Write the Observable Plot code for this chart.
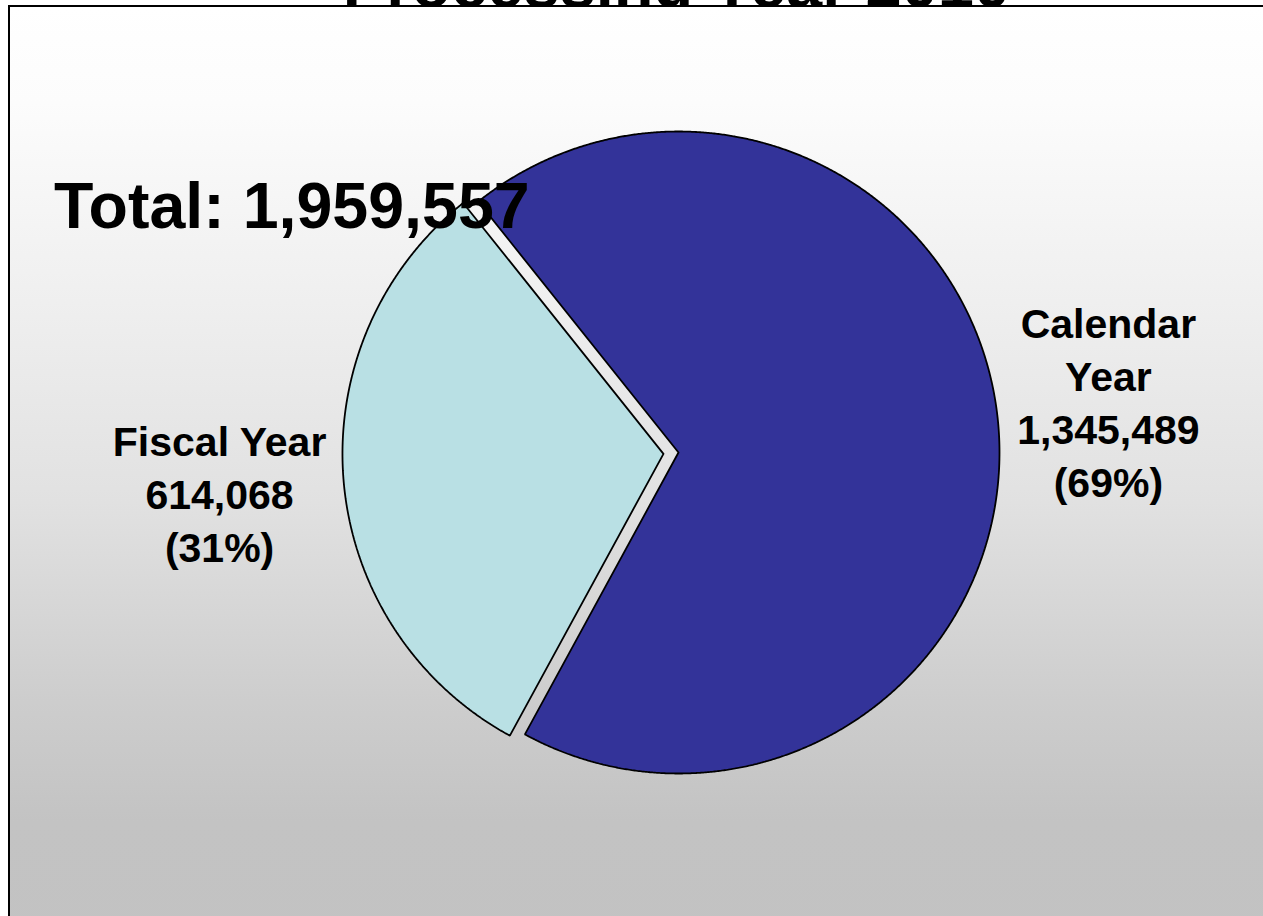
<!DOCTYPE html>
<html>
<head>
<meta charset="utf-8">
<script src="https://cdn.jsdelivr.net/npm/d3@7"></script>
<script src="https://cdn.jsdelivr.net/npm/@observablehq/plot@0.6"></script>
<style>
  html, body { margin: 0; padding: 0; background: #ffffff; }
  #wrap { position: relative; width: 1263px; height: 916px; overflow: hidden;
          font-family: "Liberation Sans", Arial, sans-serif; }
  #frame { position: absolute; left: 8px; top: 5px; width: 1400px; height: 1000px;
           border-left: 2px solid #000; border-top: 2px solid #000;
           background: linear-gradient(to bottom, #ffffff 0px, #fcfcfc 95px, #efefef 295px,
                       #e1e1e1 495px, #cdcdcd 695px, #c3c3c3 815px, #c2c2c2 1000px); }
  #chart { position: absolute; left: 0; top: 0; }
  #titleClip { position: absolute; left: 0; top: 0; width: 1263px; height: 6px; overflow: hidden; }
  #title { position: absolute; left: 0; width: 1263px; top: -48px; text-align: center;
           font-size: 65px; line-height: 65px; font-weight: bold; color: #000; padding-left: 90px; box-sizing: border-box; }
  #total { position: absolute; left: 54px; top: 174px; font-size: 64.5px; line-height: 64px;
           font-weight: bold; color: #000; white-space: nowrap; }
</style>
</head>
<body>
<div id="wrap">
  <div id="frame"></div>
  <div id="chart"></div>
  <div id="total"></div>
  <div id="titleClip"><div id="title"></div></div>
</div>
<script>
// ---- data ----
const titleText = "Processing Year 2010";
const categories = ["Calendar Year", "Fiscal Year"];
const sliceLabels = ["Calendar\nYear", "Fiscal Year"];
const values = [1345489, 614068];
const colors = ["#333399", "#b9e0e4"];
const explodedCategory = "Fiscal Year";

// ---- styling constants ----
const W = 1263, H = 916;
const startDeg = -38.6;        // pie rotation
const explodeFrac = 0.047;     // explode distance (fraction of radius)
const labelRadius = 1.36;      // label distance (fraction of radius)
const labelNudge = {"Calendar Year": [-5, -14], "Fiscal Year": [-9, 0]}; // px

const total = d3.sum(values);
const fmt = d3.format(",");

const pie = d3.pie().sort(null)
  .startAngle(startDeg * Math.PI / 180)
  .endAngle(startDeg * Math.PI / 180 + 2 * Math.PI)(values);

const slices = pie.map((p, i) => {
  const mid = (p.startAngle + p.endAngle) / 2;
  const e = categories[i] === explodedCategory ? explodeFrac : 0;
  const ox = e * Math.sin(mid), oy = e * Math.cos(mid);
  const pts = [{x: ox, y: oy}];
  const n = Math.max(8, Math.ceil((p.endAngle - p.startAngle) / (Math.PI / 720)));
  for (let k = 0; k <= n; k++) {
    const a = p.startAngle + (p.endAngle - p.startAngle) * k / n;
    pts.push({x: ox + Math.sin(a), y: oy + Math.cos(a)});
  }
  pts.push({x: ox, y: oy});
  return {
    cat: categories[i], color: colors[i], pts,
    lx: ox + labelRadius * Math.sin(mid),
    ly: oy + labelRadius * Math.cos(mid),
    text: `${sliceLabels[i]}\n${fmt(values[i])}\n(${Math.round(values[i] / total * 100)}%)`
  };
});

const cx = 678, cy = 452, r = 321;

const chart = Plot.plot({
  width: W, height: H,
  margin: 0,
  style: {background: "transparent", fontFamily: "'Liberation Sans', Arial, sans-serif", color: "#000", overflow: "visible"},
  x: {domain: [-1, 1], range: [cx - r, cx + r], axis: null},
  y: {domain: [-1, 1], range: [cy + r, cy - r], axis: null},
  marks: [
    ...slices.map(s => Plot.line(s.pts, {
      x: "x", y: "y", fill: s.color, stroke: "#000", strokeWidth: 1.8,
      strokeLinejoin: "miter", curve: "linear"
    })),
    ...slices.map(s => Plot.text([s], {
      x: "lx", y: "ly", text: "text",
      dx: labelNudge[s.cat][0], dy: labelNudge[s.cat][1],
      fontSize: 41, fontWeight: "bold", lineHeight: 1.3,
      textAnchor: "middle", lineAnchor: "middle", fill: "#000"
    }))
  ]
});
document.getElementById("chart").appendChild(chart);
document.getElementById("total").textContent = `Total: ${fmt(total)}`;
document.getElementById("title").textContent = titleText;
</script>
</body>
</html>
